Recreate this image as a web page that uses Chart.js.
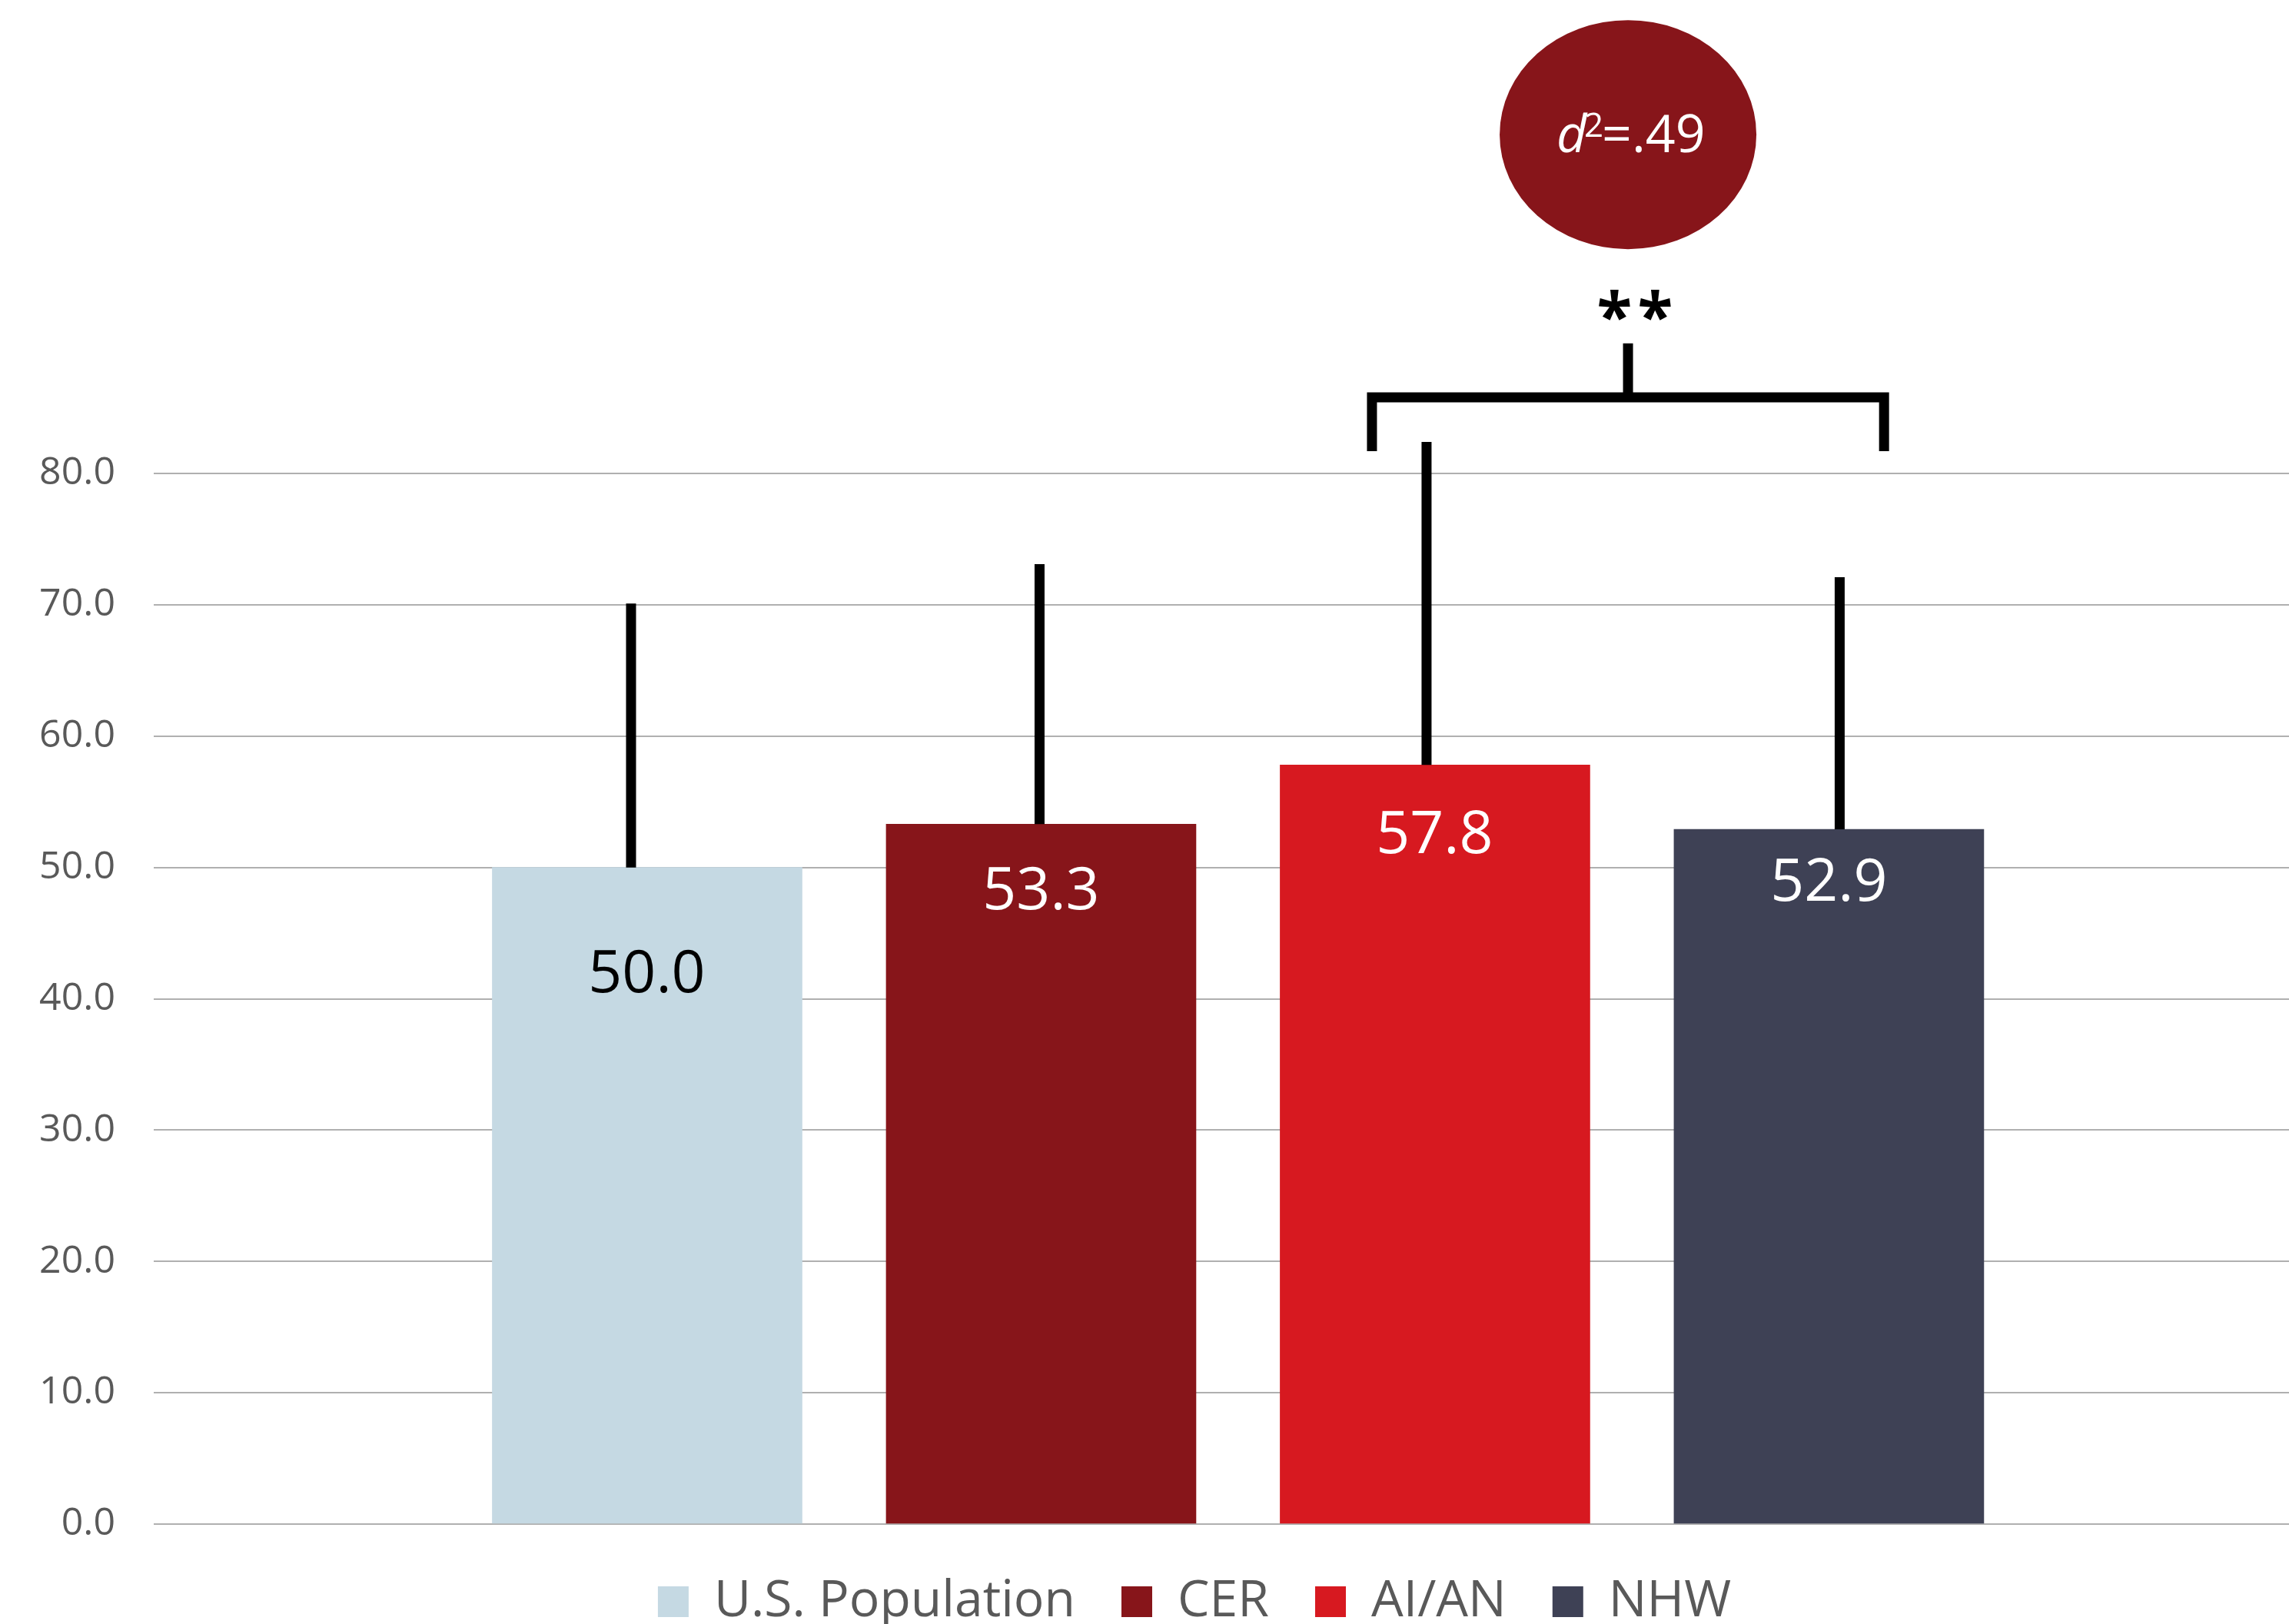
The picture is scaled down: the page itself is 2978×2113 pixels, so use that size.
<!DOCTYPE html>
<html>
<head>
<meta charset="utf-8">
<title>Group means</title>
<script src="https://cdn.jsdelivr.net/npm/chart.js@4.4.1/dist/chart.umd.min.js"></script>
<style>
  html, body { margin: 0; padding: 0; background: #fff; }
  #wrap { width: 2978px; height: 2113px; }
</style>
</head>
<body>
<div id="wrap"><canvas id="meansChart" width="2978" height="2113"></canvas></div>
<script>
// ---------- data ----------
const categories = ["U.S. Population", "CER", "AI/AN", "NHW"];
const means = [50.0, 53.3, 57.8, 52.9];
const sds = [20.1, 19.8, 24.6, 19.2];          // upper error bar length
const yTicks = [0, 10, 20, 30, 40, 50, 60, 70, 80];
const effectSize = ".49";
const sigMark = "**";

// ---------- styles ----------
const barColors = ["#c5d9e3", "#87151a", "#d71920", "#3e4155"];
const labelColors = ["#000000", "#ffffff", "#ffffff", "#ffffff"];
const labelDrop = [135, 83, 87, 65];     // px below bar top (label centre)
const errShift = [-21, -2, -11, 14];     // hand drawn error bars sit a bit off centre
const textGray = "#595959";
const FONT = "'Open Sans', 'Noto Sans', sans-serif";

// bracket between AI/AN and NHW, in axis units
const bracket = { left: 2.84, right: 4.14, mid: 3.49, y: 85.8, leg: 81.7, stem: 89.9 };
const bubble = { x: 3.49, y: 105.8, rx: 167, ry: 149, color: "#87151a" };
const starsY = 92.8;

// centre a string on (cx, cy) using its ink box
function inkText(ctx, text, cx, cy) {
  const m = ctx.measureText(text);
  const w = m.actualBoundingBoxLeft + m.actualBoundingBoxRight;
  const x = cx - w / 2 + m.actualBoundingBoxLeft;
  const y = cy + (m.actualBoundingBoxAscent - m.actualBoundingBoxDescent) / 2;
  ctx.fillText(text, x, y);
}

// legend sits a little right of the canvas centre in the original
const legendNudge = {
  id: "legendNudge",
  afterLayout(chart) {
    const lg = chart.legend;
    lg.left += 65; lg.right += 65;
    lg.top += 8; lg.bottom += 8;
  }
};

const extras = {
  id: "extras",
  afterDatasetsDraw(chart) {
    const ctx = chart.ctx;
    const xs = chart.scales.x, ys = chart.scales.y;
    const bars = chart.getDatasetMeta(0).data;
    ctx.save();
    ctx.textAlign = "left";
    ctx.textBaseline = "alphabetic";

    // error bars (upper only)
    ctx.strokeStyle = "#000";
    ctx.lineWidth = 13;
    ctx.lineCap = "butt";
    bars.forEach((bar, i) => {
      const x = bar.x + errShift[i];
      ctx.beginPath();
      ctx.moveTo(x, ys.getPixelForValue(means[i]));
      ctx.lineTo(x, ys.getPixelForValue(means[i] + sds[i]));
      ctx.stroke();
    });

    // value labels inside bars
    ctx.font = "77px " + FONT;
    bars.forEach((bar, i) => {
      ctx.fillStyle = labelColors[i];
      inkText(ctx, means[i].toFixed(1), bar.x, bar.y + labelDrop[i]);
    });

    // significance bracket
    const bl = xs.getPixelForValue(bracket.left);
    const br = xs.getPixelForValue(bracket.right);
    const bm = xs.getPixelForValue(bracket.mid);
    const by = ys.getPixelForValue(bracket.y);
    const bleg = ys.getPixelForValue(bracket.leg);
    ctx.lineJoin = "miter";
    ctx.beginPath();
    ctx.moveTo(bl, bleg);
    ctx.lineTo(bl, by);
    ctx.lineTo(br, by);
    ctx.lineTo(br, bleg);
    ctx.stroke();
    ctx.beginPath();
    ctx.moveTo(bm, by);
    ctx.lineTo(bm, ys.getPixelForValue(bracket.stem));
    ctx.stroke();

    // asterisks
    ctx.fillStyle = "#000";
    ctx.font = "bold 84px " + FONT;
    const sy = ys.getPixelForValue(starsY);
    const starGap = 53;
    [...sigMark].forEach((s, k) => {
      inkText(ctx, s, bm + 9 + (k - (sigMark.length - 1) / 2) * starGap, sy);
    });

    // effect size bubble
    const cx = xs.getPixelForValue(bubble.x);
    const cy = ys.getPixelForValue(bubble.y);
    ctx.fillStyle = bubble.color;
    ctx.beginPath();
    ctx.ellipse(cx, cy, bubble.rx, bubble.ry, 0, 0, Math.PI * 2);
    ctx.fill();

    ctx.fillStyle = "#fff";
    const base = cy + 23;
    ctx.font = "italic 68px " + FONT;
    ctx.fillText("d", cx - 93, base);
    ctx.font = "44px " + FONT;
    ctx.fillText("2", cx - 57, base - 20);
    ctx.font = "68px " + FONT;
    ctx.fillText("=" + effectSize, cx - 34, base);

    ctx.restore();
  }
};

const ctx = document.getElementById("meansChart");

new Chart(ctx, {
  type: "bar",
  data: {
    datasets: [{
      data: categories.map((c, i) => ({ x: i + 1, y: means[i] })),
      backgroundColor: barColors,
      borderWidth: 0,
      barThickness: 403
    }]
  },
  options: {
    responsive: false,
    animation: false,
    devicePixelRatio: 1,
    layout: { padding: { top: 616, left: 0, right: 0, bottom: -6 } },
    plugins: {
      tooltip: { enabled: false },
      legend: {
        position: "bottom",
        onClick: null,
        labels: {
          font: { family: FONT, size: 66 },
          color: textGray,
          boxWidth: 40,
          boxHeight: 40,
          padding: 60,
          generateLabels: () => categories.map((c, i) => ({
            text: c,
            fillStyle: barColors[i],
            strokeStyle: barColors[i],
            lineWidth: 0,
            fontColor: textGray,
            hidden: false,
            datasetIndex: 0,
            index: i
          }))
        }
      }
    },
    scales: {
      x: {
        type: "linear",
        min: -0.2527,
        max: 5.168,
        offset: false,
        display: false
      },
      y: {
        min: yTicks[0],
        max: yTicks[yTicks.length - 1],
        afterBuildTicks: s => { s.ticks = yTicks.map(v => ({ value: v })); },
        afterFit: s => { s.width = 200; },
        border: { display: false },
        grid: { color: "#b0b0b0", lineWidth: 2, drawTicks: false },
        ticks: {
          padding: 50,
          color: textGray,
          font: { family: FONT, size: 50 },
          callback: v => v.toFixed(1)
        }
      }
    }
  },
  plugins: [extras, legendNudge]
});
</script>
</body>
</html>
